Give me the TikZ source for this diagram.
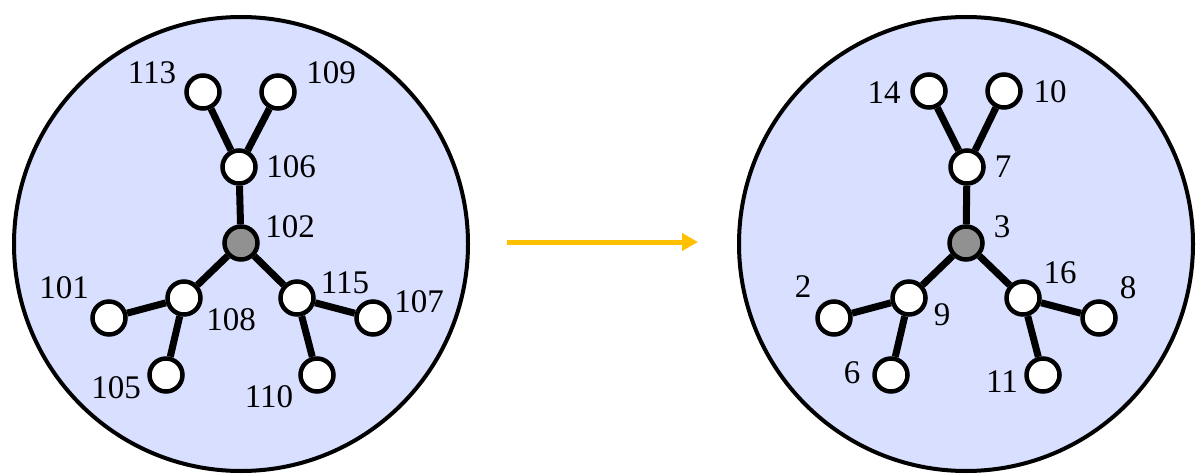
\documentclass[tikz,border=0pt]{standalone}
\usepackage{fontspec}
\setmainfont{Liberation Serif}
\usepackage{tikz}
\usetikzlibrary{arrows.meta, positioning}
\definecolor{regionblue}{RGB}{216,223,255}
\definecolor{rootgray}{RGB}{145,145,145}
\definecolor{arrowyellow}{RGB}{255,192,0}
\tikzstyle{region} = [circle, draw=black, line width=4pt, fill=regionblue, minimum size=454pt, inner sep=0pt]
\tikzstyle{vert} = [circle, draw=black, line width=4.5pt, fill=white, minimum size=33pt, inner sep=0pt]
\tikzstyle{rootvert} = [vert, fill=rootgray]
\tikzstyle{lbl} = [inner sep=0pt, font=\fontsize{33}{36}\selectfont]
\tikzstyle{edge} = [line width=7pt]
\tikzstyle{arrow} = [line width=5pt, arrowyellow, -{Triangle[length=16pt, width=17pt]}]

\begin{document}
\begin{tikzpicture}[x=1pt, y=-1pt]
        \useasboundingbox (0,0) rectangle (1201,476);

        % Kreise
        \node (lregion) [region] at (241,244) {};
        \node (rregion) [region] at (966,244) {};

        % Linker Baum
        \node (n102) [rootvert] at (241,243) {};
        \node (n106) [vert] at (239,167) {};
        \node (n113) [vert] at (203,92) {};
        \node (n109) [vert] at (278,92) {};
        \node (n108) [vert] at (184,298) {};
        \node (n101) [vert] at (109,318) {};
        \node (n105) [vert] at (166,375) {};
        \node (n115) [vert] at (297,298) {};
        \node (n107) [vert] at (373,318) {};
        \node (n110) [vert] at (317,375) {};

        \node (t102) [lbl] at (290,227) {102};
        \node (t106) [lbl] at (291,167) {106};
        \node (t113) [lbl] at (152,73) {113};
        \node (t109) [lbl] at (331,73) {109};
        \node (t108) [lbl] at (231,320) {108};
        \node (t101) [lbl] at (64,288) {101};
        \node (t105) [lbl] at (116,388) {105};
        \node (t115) [lbl] at (345,283) {115};
        \node (t107) [lbl] at (419,302) {107};
        \node (t110) [lbl] at (269,397) {110};

        \draw [edge] (n102) -- (n106);
        \draw [edge] (n106) -- (n113);
        \draw [edge] (n106) -- (n109);
        \draw [edge] (n102) -- (n108);
        \draw [edge] (n108) -- (n101);
        \draw [edge] (n108) -- (n105);
        \draw [edge] (n102) -- (n115);
        \draw [edge] (n115) -- (n107);
        \draw [edge] (n115) -- (n110);

        % Rechter Baum
        \node (m3) [rootvert] at (966,243) {};
        \node (m7) [vert] at (967,167) {};
        \node (m14) [vert] at (929,91) {};
        \node (m10) [vert] at (1004,91) {};
        \node (m9) [vert] at (909,298) {};
        \node (m2) [vert] at (834,318) {};
        \node (m6) [vert] at (891,375) {};
        \node (m16) [vert] at (1023,298) {};
        \node (m8) [vert] at (1099,318) {};
        \node (m11) [vert] at (1043,375) {};

        \node (s3) [lbl] at (1002,227) {3};
        \node (s7) [lbl] at (1003,167) {7};
        \node (s14) [lbl] at (884,93) {14};
        \node (s10) [lbl] at (1050,92) {10};
        \node (s9) [lbl] at (942,315) {9};
        \node (s2) [lbl] at (803,287) {2};
        \node (s6) [lbl] at (852,373) {6};
        \node (s16) [lbl] at (1060,273) {16};
        \node (s8) [lbl] at (1128,288) {8};
        \node (s11) [lbl] at (1002,382) {11};

        \draw [edge] (m3) -- (m7);
        \draw [edge] (m7) -- (m14);
        \draw [edge] (m7) -- (m10);
        \draw [edge] (m3) -- (m9);
        \draw [edge] (m9) -- (m2);
        \draw [edge] (m9) -- (m6);
        \draw [edge] (m3) -- (m16);
        \draw [edge] (m16) -- (m8);
        \draw [edge] (m16) -- (m11);

        % Pfeil
        \coordinate (astart) at (507,242);
        \coordinate (aend) at (698,242);
        \draw [arrow] (astart) -- (aend);
    \end{tikzpicture}
\end{document}
